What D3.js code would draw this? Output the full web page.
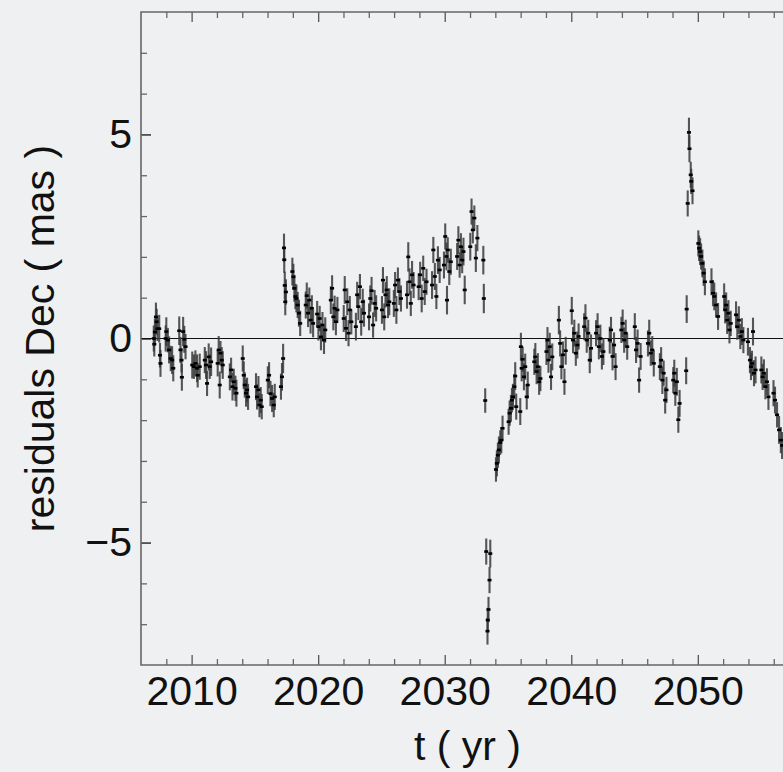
<!DOCTYPE html>
<html>
<head>
<meta charset="utf-8">
<script src="https://cdn.jsdelivr.net/npm/d3@7"></script>
<style>
  html, body { margin: 0; padding: 0; background: #eef0f2; }
  svg { display: block; }
  text { font-family: "Liberation Sans", Arial, Helvetica, sans-serif; fill: #111; }
</style>
</head>
<body>
<svg id="chart" width="783" height="772"></svg>
<script>
// Dec residuals of the star's astrometric fit, one observing season per line.
const epochs = [
  2007.01, 2007.05, 2007.10, 2007.18, 2007.24, 2007.30, 2007.44, 2007.50, 2007.54,
  2007.95, 2008.00, 2008.12, 2008.22, 2008.35, 2008.46, 2008.55,
  2009.02, 2009.12, 2009.20, 2009.23, 2009.33, 2009.42, 2009.52,
  2010.05, 2010.18, 2010.30, 2010.43, 2010.48, 2010.64,
  2011.04, 2011.14, 2011.22, 2011.35, 2011.43, 2011.54,
  2012.06, 2012.14, 2012.22, 2012.28, 2012.38, 2012.46,
  2013.02, 2013.12, 2013.23, 2013.33, 2013.46, 2013.54,
  2014.04, 2014.12, 2014.20, 2014.30, 2014.38, 2014.46,
  2015.09, 2015.17, 2015.28, 2015.36, 2015.46, 2015.54,
  2016.02, 2016.12, 2016.23, 2016.36, 2016.49, 2016.57,
  2017.06, 2017.14, 2017.23, 2017.30, 2017.32, 2017.36, 2017.40, 2017.45,
  2017.96, 2018.04, 2018.12, 2018.20, 2018.28, 2018.38, 2018.48, 2018.58,
  2019.02, 2019.10, 2019.20, 2019.30, 2019.40, 2019.50, 2019.60,
  2019.92, 2020.02, 2020.12, 2020.22, 2020.34, 2020.46, 2020.56,
  2021.00, 2021.10, 2021.20, 2021.30, 2021.40, 2021.52,
  2022.02, 2022.10, 2022.20, 2022.30, 2022.40, 2022.50, 2022.62,
  2022.98, 2023.08, 2023.18, 2023.30, 2023.40, 2023.52, 2023.62,
  2024.02, 2024.12, 2024.22, 2024.34, 2024.46, 2024.58,
  2025.04, 2025.12, 2025.22, 2025.32, 2025.42, 2025.52, 2025.62,
  2025.98, 2026.08, 2026.18, 2026.30, 2026.42, 2026.54,
  2027.02, 2027.12, 2027.22, 2027.32, 2027.42, 2027.54,
  2027.94, 2028.06, 2028.18, 2028.30, 2028.42, 2028.56,
  2029.00, 2029.10, 2029.22, 2029.34, 2029.46, 2029.60,
  2029.94, 2030.04, 2030.14, 2030.18, 2030.24, 2030.36, 2030.48,
  2030.98, 2031.08, 2031.18, 2031.28, 2031.38, 2031.48, 2031.58,
  2032.02, 2032.12, 2032.22, 2032.34, 2032.46, 2032.58,
  2033.05, 2033.09, 2033.20, 2033.28, 2033.38, 2033.40, 2033.46, 2033.54, 2033.60,
  2034.05, 2034.12, 2034.20, 2034.28, 2034.39, 2034.47, 2034.57,
  2035.05, 2035.13, 2035.23, 2035.31, 2035.39, 2035.50, 2035.57, 2035.65, 2035.97,
  2036.02, 2036.08, 2036.16, 2036.26, 2036.36, 2036.48, 2036.56,
  2037.08, 2037.16, 2037.26, 2037.36, 2037.46, 2037.56,
  2038.04, 2038.12, 2038.20, 2038.30, 2038.40, 2038.50,
  2039.02, 2039.12, 2039.22, 2039.34, 2039.46, 2039.56,
  2040.04, 2040.14, 2040.24, 2040.36, 2040.48, 2040.58,
  2041.02, 2041.12, 2041.22, 2041.34, 2041.46, 2041.56,
  2041.96, 2042.08, 2042.18, 2042.30, 2042.42, 2042.54,
  2043.04, 2043.14, 2043.26, 2043.38, 2043.50,
  2043.96, 2044.06, 2044.18, 2044.30, 2044.42,
  2045.02, 2045.12, 2045.24, 2045.36, 2045.48,
  2046.06, 2046.16, 2046.28, 2046.40, 2046.52,
  2047.00, 2047.10, 2047.20, 2047.30, 2047.42, 2047.52,
  2048.06, 2048.14, 2048.22, 2048.34, 2048.46, 2048.56,
  2049.08, 2049.12, 2049.20, 2049.30, 2049.34, 2049.44, 2049.48, 2049.58,
  2050.04, 2050.10, 2050.18, 2050.26, 2050.36, 2050.46, 2050.56,
  2051.08, 2051.20, 2051.30, 2051.44, 2051.60,
  2052.08, 2052.16, 2052.24, 2052.32, 2052.42, 2052.50, 2052.60,
  2053.02, 2053.12, 2053.24, 2053.36, 2053.48, 2053.60, 2053.96,
  2054.12, 2054.20, 2054.28, 2054.36, 2054.44, 2054.56,
  2055.02, 2055.12, 2055.22, 2055.34, 2055.46, 2055.58,
  2055.98, 2056.10, 2056.26, 2056.42, 2056.56, 2056.66
];

const residuals = [
  0.00, -0.14, 0.16, 0.53, 0.41, 0.24, 0.24, -0.41, -0.61,
  0.00, 0.17, -0.04, -0.28, -0.49, -0.53, -0.73,
  0.19, -0.28, -0.53, -0.95, 0.17, -0.02, -0.20,
  -0.65, -0.69, -0.61, -0.73, -0.90, -0.69,
  -0.53, -0.65, -1.10, -0.45, -0.69, -0.57,
  -0.61, -0.28, -1.14, -0.36, -0.53, -0.65,
  -0.94, -0.77, -1.18, -1.06, -1.22, -1.34,
  -0.49, -0.90, -1.14, -1.34, -1.26, -1.43,
  -1.18, -1.43, -1.26, -1.63, -1.51, -1.67,
  -1.02, -0.90, -1.35, -1.47, -1.63, -1.43,
  -1.18, -0.94, -0.49, 2.22, 1.93, 1.30, 0.90, 1.14,
  1.64, 1.51, 1.23, 1.03, 0.98, 0.82, 0.62, 0.37,
  0.82, 1.05, 0.62, 0.94, 0.45, 0.74, 0.37,
  0.60, 0.29, 0.49, 0.04, 0.33, -0.04, 0.21,
  0.94, 1.23, 0.53, 0.74, 0.41, 0.70,
  0.49, 1.19, 0.25, 0.90, 0.13, 0.70, 0.41,
  0.29, 1.07, 0.78, 1.27, 0.41, 0.90, 0.62,
  0.53, 0.98, 1.17, 0.33, 0.86, 0.74,
  0.70, 1.43, 0.53, 1.07, 1.19, 0.82, 0.90,
  0.86, 1.31, 0.70, 1.43, 1.15, 0.98,
  1.07, 2.00, 1.39, 0.86, 1.56, 1.31,
  1.27, 1.56, 0.98, 1.72, 1.15, 1.39,
  1.31, 2.17, 1.52, 1.03, 1.92, 1.68,
  1.80, 2.50, 2.01, 0.94, 2.17, 1.64, 1.88,
  2.01, 2.41, 1.80, 2.25, 1.92, 2.13, 1.19,
  2.25, 3.11, 2.66, 2.95, 1.97, 2.46,
  1.92, 0.98, -1.52, -5.22, -7.17, -6.90, -6.64, -5.92, -5.27,
  -3.21, -3.06, -2.86, -2.73, -2.55, -2.49, -2.20,
  -2.04, -1.83, -1.71, -1.51, -1.43, -1.18, -0.92, -1.67, -1.79,
  -0.20, -0.73, -0.51, -0.94, -0.69, -1.43, -1.14,
  -0.57, -0.45, -0.81, -0.69, -1.06, -0.98,
  -0.32, -0.04, -0.53, -0.20, -0.94, -0.45,
  0.45, -0.12, -0.69, -0.40, -1.06, -0.30,
  0.68, -0.04, 0.13, -0.36, -0.16, 0.05,
  0.29, 0.50, -0.04, 0.13, -0.53, -0.24,
  0.13, 0.29, -0.20, 0.00, -0.44, -0.32,
  -0.04, 0.21, -0.44, -0.16, -0.69,
  0.21, 0.37, -0.04, 0.13, -0.20,
  0.29, -0.28, -0.12, -1.02, -0.44,
  -0.12, 0.13, -0.36, -0.28, -0.61,
  -0.69, -0.53, -1.02, -0.85, -1.51, -1.26,
  -1.02, -0.85, -1.34, -1.06, -1.99, -1.59,
  -0.79, 0.72, 3.31, 5.05, 4.65, 4.01, 3.85, 3.62,
  2.33, 2.21, 2.13, 2.01, 1.84, 1.60, 1.39,
  1.39, 1.11, 1.03, 0.82, 0.54,
  1.03, 0.70, 0.82, 0.45, 0.62, 0.21, 0.37,
  0.58, 0.29, 0.45, 0.05, 0.17, -0.04, -0.08,
  -0.53, -0.69, -0.61, 0.17, -0.85, -0.77,
  -0.77, -0.94, -0.85, -1.18, -1.06, -1.43,
  -1.34, -1.51, -1.87, -2.24, -2.49, -2.62
];

const errors = [
  0.32, 0.30, 0.33, 0.35, 0.32, 0.30, 0.34, 0.30, 0.33,
  0.32, 0.35, 0.30, 0.33, 0.31, 0.34, 0.32,
  0.35, 0.32, 0.30, 0.33, 0.36, 0.33, 0.31,
  0.33, 0.30, 0.32, 0.34, 0.30, 0.32,
  0.32, 0.34, 0.31, 0.33, 0.30, 0.35,
  0.32, 0.34, 0.33, 0.30, 0.32, 0.34,
  0.33, 0.30, 0.34, 0.32, 0.31, 0.33,
  0.32, 0.34, 0.31, 0.33, 0.30, 0.32,
  0.33, 0.31, 0.34, 0.30, 0.32, 0.31,
  0.34, 0.32, 0.31, 0.33, 0.30, 0.32,
  0.32, 0.34, 0.36, 0.35, 0.32, 0.34, 0.33, 0.31,
  0.34, 0.32, 0.33, 0.31, 0.34, 0.32, 0.33, 0.31,
  0.33, 0.32, 0.34, 0.31, 0.33, 0.32, 0.34,
  0.32, 0.34, 0.31, 0.33, 0.32, 0.34, 0.31,
  0.34, 0.32, 0.33, 0.31, 0.33, 0.32,
  0.33, 0.34, 0.31, 0.33, 0.32, 0.34, 0.31,
  0.34, 0.32, 0.33, 0.31, 0.34, 0.32, 0.33,
  0.33, 0.32, 0.34, 0.31, 0.33, 0.32,
  0.34, 0.32, 0.33, 0.31, 0.34, 0.32, 0.33,
  0.33, 0.32, 0.34, 0.31, 0.33, 0.32,
  0.34, 0.36, 0.33, 0.31, 0.34, 0.32,
  0.33, 0.32, 0.34, 0.31, 0.33, 0.32,
  0.34, 0.32, 0.33, 0.31, 0.34, 0.32,
  0.33, 0.32, 0.34, 0.35, 0.31, 0.33, 0.32,
  0.33, 0.34, 0.31, 0.33, 0.32, 0.34, 0.35,
  0.34, 0.32, 0.33, 0.31, 0.34, 0.32,
  0.35, 0.36, 0.30, 0.32, 0.33, 0.30, 0.31, 0.32, 0.34,
  0.30, 0.32, 0.31, 0.33, 0.30, 0.32, 0.31,
  0.32, 0.31, 0.33, 0.30, 0.32, 0.31, 0.34, 0.32, 0.33,
  0.34, 0.32, 0.31, 0.33, 0.32, 0.31, 0.33,
  0.32, 0.34, 0.31, 0.33, 0.32, 0.31,
  0.33, 0.32, 0.31, 0.34, 0.32, 0.33,
  0.35, 0.32, 0.31, 0.33, 0.32, 0.34,
  0.34, 0.32, 0.33, 0.31, 0.33, 0.32,
  0.33, 0.34, 0.31, 0.33, 0.32, 0.34,
  0.32, 0.33, 0.31, 0.34, 0.32, 0.33,
  0.33, 0.32, 0.34, 0.31, 0.33,
  0.32, 0.34, 0.31, 0.33, 0.32,
  0.33, 0.32, 0.34, 0.31, 0.33,
  0.32, 0.33, 0.31, 0.34, 0.32,
  0.33, 0.32, 0.34, 0.31, 0.33, 0.32,
  0.32, 0.33, 0.31, 0.34, 0.32, 0.33,
  0.33, 0.34, 0.32, 0.36, 0.33, 0.32, 0.31, 0.33,
  0.32, 0.31, 0.33, 0.32, 0.34, 0.31, 0.33,
  0.33, 0.32, 0.34, 0.31, 0.33,
  0.32, 0.33, 0.31, 0.34, 0.32, 0.33, 0.31,
  0.33, 0.32, 0.34, 0.31, 0.33, 0.32, 0.34,
  0.32, 0.33, 0.31, 0.34, 0.32, 0.33,
  0.33, 0.32, 0.34, 0.31, 0.33, 0.32,
  0.32, 0.33, 0.31, 0.34, 0.32, 0.33
];

const xMajorTicks = [2010, 2020, 2030, 2040, 2050];
const xMinorTicks = [2008, 2012, 2014, 2016, 2018, 2022, 2024, 2026, 2028,
                     2032, 2034, 2036, 2038, 2042, 2044, 2046, 2048, 2052, 2054, 2056];
const yMajorTicks = [-5, 0, 5];
const yMinorTicks = [-7, -6, -4, -3, -2, -1, 1, 2, 3, 4, 6, 7];
const xTitle = "t ( yr )";
const yTitle = "residuals Dec ( mas )";

const svg = d3.select("#chart");
const W = 783, H = 772;
const plot = { left: 141, top: 12, right: 794, bottom: 665 };
const fontSize = 41;

svg.append("rect").attr("width", W).attr("height", H).attr("fill", "#eef0f2");

const x = d3.scaleLinear().domain([2006, 2057.6]).range([plot.left, plot.right]);
const y = d3.scaleLinear().domain([-8, 8]).range([plot.bottom, plot.top]);

const n = Math.min(epochs.length, residuals.length, errors.length);
const obs = d3.range(n).map(i => ({ t: epochs[i], v: residuals[i], e: errors[i] }));

svg.append("clipPath").attr("id", "clip")
  .append("rect")
  .attr("x", plot.left).attr("y", plot.top)
  .attr("width", plot.right - plot.left).attr("height", plot.bottom - plot.top);

// zero reference line
svg.append("line")
  .attr("x1", plot.left).attr("x2", plot.right)
  .attr("y1", y(0)).attr("y2", y(0))
  .attr("stroke", "#111").attr("stroke-width", 1.2);

const marks = svg.append("g").attr("clip-path", "url(#clip)");

// error bars
marks.append("g")
  .selectAll("line")
  .data(obs)
  .join("line")
  .attr("x1", d => x(d.t)).attr("x2", d => x(d.t))
  .attr("y1", d => y(d.v - d.e)).attr("y2", d => y(d.v + d.e))
  .attr("stroke", "#3a3a3a").attr("stroke-opacity", 0.85)
  .attr("stroke-width", 2.1);

// measured positions
marks.append("g")
  .selectAll("rect")
  .data(obs)
  .join("rect")
  .attr("x", d => x(d.t) - 2).attr("y", d => y(d.v) - 1.3)
  .attr("width", 4).attr("height", 2.6)
  .attr("fill", "#000");

// axes (ticks point into the frame)
const fmt = d => (d < 0 ? "\u2212" + Math.abs(d) : String(d));
const styleAxis = (g, color) => {
  g.select(".domain").remove();
  g.selectAll(".tick line").attr("stroke", color).attr("stroke-width", 1.3);
};

svg.append("g").attr("transform", `translate(0,${plot.bottom})`)
  .call(d3.axisBottom(x).tickValues(xMinorTicks).tickSize(-6).tickFormat(""))
  .call(g => styleAxis(g, "#666"));
svg.append("g").attr("transform", `translate(0,${plot.bottom})`)
  .call(d3.axisBottom(x).tickValues(xMajorTicks).tickSize(-10).tickPadding(11).tickFormat(d3.format("d")))
  .call(g => styleAxis(g, "#555"))
  .call(g => g.selectAll("text").attr("font-size", fontSize).attr("fill", "#111"));

svg.append("g").attr("transform", `translate(0,${plot.top})`)
  .call(d3.axisTop(x).tickValues(xMinorTicks).tickSize(-6).tickFormat(""))
  .call(g => styleAxis(g, "#666"));
svg.append("g").attr("transform", `translate(0,${plot.top})`)
  .call(d3.axisTop(x).tickValues(xMajorTicks).tickSize(-10).tickFormat(""))
  .call(g => styleAxis(g, "#555"));

svg.append("g").attr("transform", `translate(${plot.left},0)`)
  .call(d3.axisLeft(y).tickValues(yMinorTicks).tickSize(-6).tickFormat(""))
  .call(g => styleAxis(g, "#666"));
svg.append("g").attr("transform", `translate(${plot.left},0)`)
  .call(d3.axisLeft(y).tickValues(yMajorTicks).tickSize(-10).tickPadding(9).tickFormat(fmt))
  .call(g => styleAxis(g, "#111"))
  .call(g => g.selectAll("text").attr("font-size", fontSize).attr("fill", "#111"));

// frame
svg.append("path")
  .attr("d", `M${plot.right},${plot.top}H${plot.left}V${plot.bottom}H${plot.right}`)
  .attr("fill", "none").attr("stroke", "#666").attr("stroke-width", 1.6);

// axis titles
svg.append("text")
  .attr("x", (plot.left + plot.right) / 2).attr("y", 760)
  .attr("text-anchor", "middle").attr("font-size", fontSize)
  .text(xTitle);

svg.append("text")
  .attr("transform", `translate(54,${(plot.top + plot.bottom) / 2}) rotate(-90)`)
  .attr("text-anchor", "middle").attr("font-size", fontSize)
  .text(yTitle);
</script>
</body>
</html>
